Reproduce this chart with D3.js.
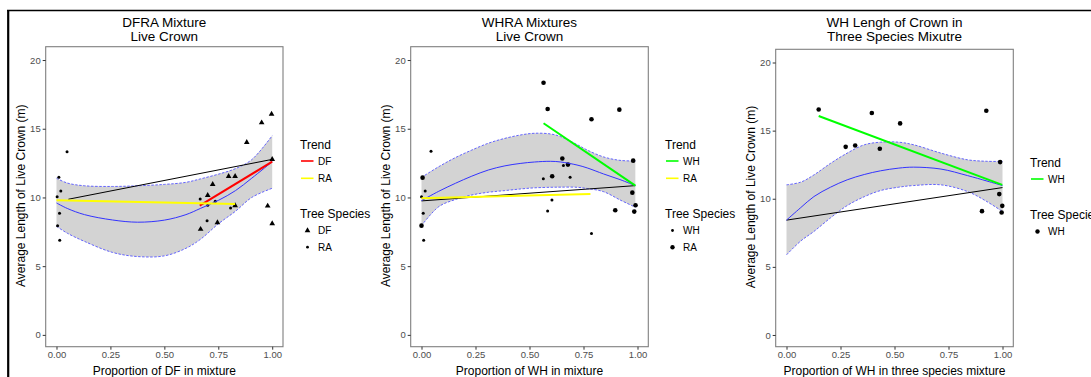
<!DOCTYPE html>
<html><head><meta charset="utf-8">
<script src="https://cdn.jsdelivr.net/npm/d3@7"></script>
<style>
body{margin:0;background:#fff;}
text{font-family:"Liberation Sans",Arial,sans-serif;}
</style></head>
<body><svg id="c" width="1091" height="377"></svg>
<script>
// ---------- DATA ----------
const xTicks = [0, 0.25, 0.5, 0.75, 1];
const xTickLabels = ["0.00", "0.25", "0.50", "0.75", "1.00"];
const yTicks = [0, 5, 10, 15, 20];

// Panel 1: DFRA
const p1Titles = ["DFRA Mixture", "Live Crown"];
const p1XLabel = "Proportion of DF in mixture";
const p1PtX = [0.003,0.014,0.005,0.015,0.02,0.011,0.049, 0.997,0.951,0.882,1.0,0.798,0.828,0.724,0.666,0.701,0.736,0.701,0.828,0.807,0.979,0.698,0.746,0.668,1.0];
const p1PtY = [10.06,8.85,7.95,6.88,10.47,11.47,13.33, 16.07,15.44,14.01,12.77,11.54,11.54,10.96,9.89,10.16,9.72,9.43,9.41,9.24,9.38,8.31,8.17,7.69,8.10];
const p1PtSp = ["RA","RA","RA","RA","RA","RA","RA", "DF","DF","DF","DF","DF","DF","DF","RA","DF","RA","RA","DF","RA","DF","RA","DF","DF","DF"];
const p1SmX  = [0, 0.05, 0.13, 0.26, 0.376, 0.5, 0.6, 0.667, 0.752, 0.83, 0.905, 1.0];
const p1SmY  = [9.6, 9.2, 8.75, 8.36, 8.2, 8.35, 8.75, 9.2, 9.8, 10.5, 11.4, 12.6];
const p1SmLo = [7.9, 7.4, 6.8, 6.0, 5.7, 5.75, 6.3, 6.95, 8.1, 9.0, 10.0, 10.67];
const p1SmHi = [11.4, 11.05, 10.85, 10.8, 10.85, 10.95, 11.1, 11.35, 11.7, 12.1, 12.75, 14.5];
const p1TrendNames = ["DF", "RA"];
const p1TrendX = [[0.664, 1.0], [0.0, 0.828]];
const p1TrendY = [[9.41, 12.6], [9.8, 9.53]];
const p1AllX = [0.055, 1.0];
const p1AllY = [9.87, 12.77];
const p1SpNames = ["DF", "RA"];

// Panel 2: WHRA
const p2Titles = ["WHRA Mixtures", "Live Crown"];
const p2XLabel = "Proportion of WH in mixture";
const p2PtX = [0.565,0.584,0.787,0.916,0.044,0.005,0.017,0.0,0.008,0.0,0.01,0.652,0.657,0.678,0.605,0.564,0.688,0.98,0.976,0.604,0.584,0.787,0.897,0.991,0.985];
const p2PtY = [18.35,16.44,15.69,16.39,13.36,11.44,10.47,10.06,8.85,7.95,6.88,12.83,12.32,12.39,11.54,11.37,11.47,12.68,10.35,9.82,9.02,7.37,9.07,9.43,8.97];
const p2PtSp = ["RA","RA","RA","RA","WH","RA","WH","WH","WH","RA","WH","RA","WH","RA","RA","WH","WH","RA","RA","WH","WH","WH","RA","RA","RA"];
const p2SmX  = [0, 0.08, 0.157, 0.233, 0.31, 0.386, 0.46, 0.523, 0.598, 0.645, 0.72, 0.767, 0.843, 0.919, 0.99];
const p2SmY  = [9.77, 10.45, 11.03, 11.55, 12.0, 12.3, 12.48, 12.58, 12.63, 12.58, 12.36, 12.15, 11.71, 11.3, 10.86];
const p2SmLo = [7.95, 9.33, 9.85, 10.18, 10.38, 10.5, 10.62, 10.7, 10.74, 10.75, 10.74, 10.65, 10.42, 9.82, 9.29];
const p2SmHi = [11.46, 12.24, 12.9, 13.45, 13.95, 14.3, 14.55, 14.67, 14.62, 14.42, 13.85, 13.45, 12.95, 12.7, 12.65];
const p2TrendNames = ["WH", "RA"];
const p2TrendX = [[0.565, 0.99], [0.0, 0.782]];
const p2TrendY = [[15.4, 10.86], [9.94, 10.25]];
const p2AllX = [0.0, 0.99];
const p2AllY = [9.75, 10.86];
const p2SpNames = ["WH", "RA"];

// Panel 3: WH in three species
const p3Titles = ["WH Lengh of Crown in", "Three Species Mixutre"];
const p3XLabel = "Proportion of WH in three species mixture";
const p3PtX = [0.149,0.395,0.526,0.925,0.274,0.318,0.432,0.989,0.985,0.999,0.905,0.996];
const p3PtY = [16.55,16.29,15.53,16.46,13.81,13.91,13.67,12.69,10.34,9.48,9.09,8.99];
const p3PtSp = ["WH","WH","WH","WH","WH","WH","WH","WH","WH","WH","WH","WH"];
const p3SmX  = [0, 0.066, 0.127, 0.204, 0.281, 0.36, 0.435, 0.52, 0.589, 0.715, 0.838, 0.928, 1.0];
const p3SmY  = [8.43, 9.35, 10.16, 10.85, 11.39, 11.78, 12.05, 12.25, 12.32, 12.18, 11.7, 11.3, 10.97];
const p3SmLo = [5.88, 6.9, 7.6, 8.6, 9.5, 10.15, 10.6, 10.85, 10.97, 11.02, 10.53, 9.79, 9.06];
const p3SmHi = [11.02, 11.22, 11.75, 12.6, 13.35, 13.96, 14.15, 14.15, 13.96, 13.35, 12.86, 12.75, 12.74];
const p3TrendNames = ["WH"];
const p3TrendX = [[0.149, 0.999]];
const p3TrendY = [[16.07, 11.02]];
const p3AllX = [0.0, 1.0];
const p3AllY = [8.43, 10.82];
const p3SpNames = ["WH"];

const yLabel = "Average Length of Live Crown (m)";

// ---------- DRAW ----------
const svg = d3.select("#c");
const trendColor = {DF: "#ff0000", RA: "#ffff00", WH: "#00ff00"};

function drawPanel(cfg) {
  const {left, right, top, bottom} = cfg.frame;
  const x = d3.scaleLinear().domain([-0.05, 1.05]).range([left, right]);
  const y = d3.scaleLinear().domain([-0.86, 20.97]).range([bottom, top]);
  const g = svg.append("g");

  // titles
  cfg.titles.forEach((t, i) => {
    g.append("text").attr("x", (left + right) / 2).attr("y", cfg.titleY + i * 14)
      .attr("text-anchor", "middle").attr("font-size", 13.5).attr("fill", "#000").text(t);
  });

  // band
  const band = cfg.smX.map((v, i) => ({x: v, lo: cfg.smLo[i], hi: cfg.smHi[i], y: cfg.smY[i]}));
  g.append("path").datum(band)
    .attr("d", d3.area().x(d => x(d.x)).y0(d => y(d.lo)).y1(d => y(d.hi)).curve(d3.curveCatmullRom))
    .attr("fill", "#d3d3d3");
  ["lo", "hi"].forEach(k => {
    g.append("path").datum(band)
      .attr("d", d3.line().x(d => x(d.x)).y(d => y(d[k])).curve(d3.curveCatmullRom))
      .attr("fill", "none").attr("stroke", "#5555ff").attr("stroke-width", 0.9)
      .attr("stroke-dasharray", "2.5,1.5");
  });

  // points
  cfg.ptX.forEach((v, i) => {
    const sp = cfg.ptSp[i];
    const sh = cfg.shapes[sp];
    const px = x(v), py = y(cfg.ptY[i]);
    if (sh === "tri") {
      g.append("path").attr("d", d3.symbol(d3.symbolTriangle, 14)()).attr("transform", `translate(${px},${py})`).attr("fill", "#000");
    } else {
      g.append("circle").attr("cx", px).attr("cy", py).attr("r", sh === "small" ? 1.5 : 2.3).attr("fill", "#000");
    }
  });

  // overall black line
  g.append("line").attr("x1", x(cfg.allX[0])).attr("y1", y(cfg.allY[0]))
    .attr("x2", x(cfg.allX[1])).attr("y2", y(cfg.allY[1]))
    .attr("stroke", "#000").attr("stroke-width", 1);

  // smooth line
  g.append("path").datum(band)
    .attr("d", d3.line().x(d => x(d.x)).y(d => y(d.y)).curve(d3.curveCatmullRom))
    .attr("fill", "none").attr("stroke", "#3333ff").attr("stroke-width", 1);

  // trend lines
  cfg.trendNames.forEach((n, i) => {
    g.append("line").attr("x1", x(cfg.trendX[i][0])).attr("y1", y(cfg.trendY[i][0]))
      .attr("x2", x(cfg.trendX[i][1])).attr("y2", y(cfg.trendY[i][1]))
      .attr("stroke", trendColor[n]).attr("stroke-width", 2);
  });

  // frame
  g.append("rect").attr("x", left).attr("y", top).attr("width", right - left).attr("height", bottom - top)
    .attr("fill", "none").attr("stroke", "#7f7f7f").attr("stroke-width", 1.1);

  // axes
  const xa = g.append("g").attr("transform", `translate(0,${bottom})`)
    .call(d3.axisBottom(x).tickValues(xTicks).tickFormat((d, i) => xTickLabels[i]).tickSize(3).tickPadding(2));
  const ya = g.append("g").attr("transform", `translate(${left},0)`)
    .call(d3.axisLeft(y).tickValues(yTicks).tickSize(3).tickPadding(2));
  [xa, ya].forEach(a => {
    a.select(".domain").remove();
    a.selectAll("line").attr("stroke", "#333");
    a.selectAll("text").attr("fill", "#4d4d4d").attr("font-size", 9.5).attr("font-family", "Liberation Sans, Arial, sans-serif");
  });

  // axis titles
  g.append("text").attr("x", (left + right) / 2).attr("y", 375).attr("text-anchor", "middle")
    .attr("font-size", 12).attr("fill", "#000").text(cfg.xLabel);
  g.append("text").attr("transform", `translate(${left - 21},${(top + bottom) / 2 - 1}) rotate(-90)`)
    .attr("text-anchor", "middle").attr("font-size", 12).attr("fill", "#000").text(yLabel);

  // legend
  const L = cfg.legend;
  g.append("text").attr("x", L.x).attr("y", L.trendY + 4).attr("font-size", 12).attr("fill", "#000").text("Trend");
  cfg.trendNames.forEach((n, i) => {
    const yy = L.trendY + 16 + i * 17.3;
    g.append("line").attr("x1", L.x + 1).attr("x2", L.x + 13.5).attr("y1", yy).attr("y2", yy)
      .attr("stroke", trendColor[n]).attr("stroke-width", 1.6);
    g.append("text").attr("x", L.x + 18).attr("y", yy + 3.5).attr("font-size", 10).attr("fill", "#000").text(n);
  });
  g.append("text").attr("x", L.x).attr("y", L.spY + 4).attr("font-size", 12).attr("fill", "#000").text("Tree Species");
  cfg.spNames.forEach((n, i) => {
    const yy = L.spY + 16.5 + i * 16.7;
    const sh = cfg.shapes[n];
    if (sh === "tri") {
      g.append("path").attr("d", d3.symbol(d3.symbolTriangle, 14)()).attr("transform", `translate(${L.x + 7.5},${yy})`).attr("fill", "#000");
    } else {
      g.append("circle").attr("cx", L.x + 7.5).attr("cy", yy).attr("r", sh === "small" ? 1.4 : 2.2).attr("fill", "#000");
    }
    g.append("text").attr("x", L.x + 18).attr("y", yy + 3.5).attr("font-size", 10).attr("fill", "#000").text(n);
  });
}

drawPanel({
  frame: {left: 45.7, right: 283, top: 46.7, bottom: 346.7}, titleY: 27,
  titles: p1Titles, xLabel: p1XLabel,
  ptX: p1PtX, ptY: p1PtY, ptSp: p1PtSp, shapes: {DF: "tri", RA: "small"},
  smX: p1SmX, smY: p1SmY, smLo: p1SmLo, smHi: p1SmHi,
  trendNames: p1TrendNames, trendX: p1TrendX, trendY: p1TrendY,
  allX: p1AllX, allY: p1AllY, spNames: p1SpNames,
  legend: {x: 300, trendY: 145, spY: 214}
});
drawPanel({
  frame: {left: 410.7, right: 648.3, top: 46.7, bottom: 346.7}, titleY: 27,
  titles: p2Titles, xLabel: p2XLabel,
  ptX: p2PtX, ptY: p2PtY, ptSp: p2PtSp, shapes: {WH: "small", RA: "big"},
  smX: p2SmX, smY: p2SmY, smLo: p2SmLo, smHi: p2SmHi,
  trendNames: p2TrendNames, trendX: p2TrendX, trendY: p2TrendY,
  allX: p2AllX, allY: p2AllY, spNames: p2SpNames,
  legend: {x: 665, trendY: 145, spY: 214}
});
drawPanel({
  frame: {left: 775.7, right: 1013.3, top: 49.3, bottom: 346.7}, titleY: 27,
  titles: p3Titles, xLabel: p3XLabel,
  ptX: p3PtX, ptY: p3PtY, ptSp: p3PtSp, shapes: {WH: "big"},
  smX: p3SmX, smY: p3SmY, smLo: p3SmLo, smHi: p3SmHi,
  trendNames: p3TrendNames, trendX: p3TrendX, trendY: p3TrendY,
  allX: p3AllX, allY: p3AllY, spNames: p3SpNames,
  legend: {x: 1030, trendY: 163, spY: 215}
});

// outer border
svg.append("line").attr("x1", 7).attr("x2", 1091).attr("y1", 10.5).attr("y2", 10.5).attr("stroke", "#000").attr("stroke-width", 1.6);
svg.append("line").attr("x1", 8.2).attr("x2", 8.2).attr("y1", 10).attr("y2", 377).attr("stroke", "#000").attr("stroke-width", 2.2);
</script></body></html>
